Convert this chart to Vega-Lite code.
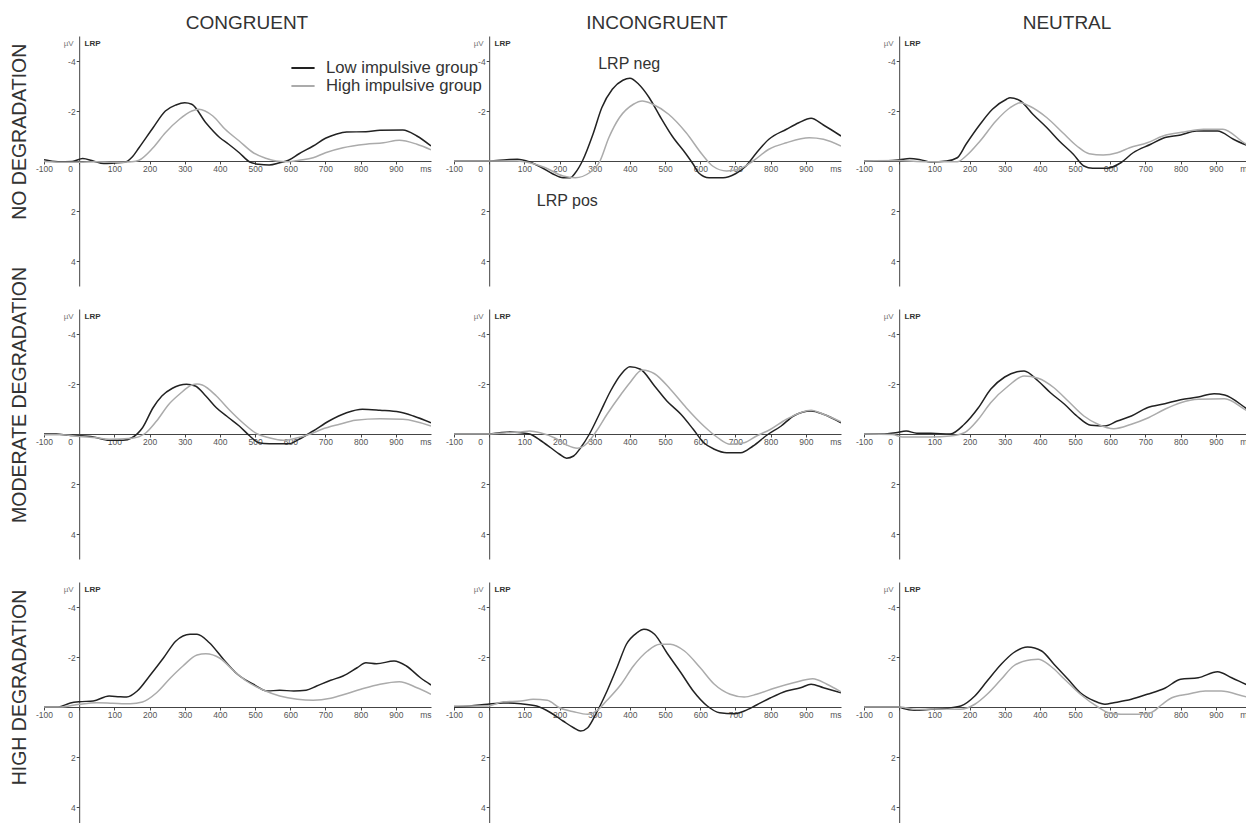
{
"$schema": "https://vega.github.io/schema/vega-lite/v6.json",
"background": "white",
"padding": {"left": 9, "top": 14, "right": 0, "bottom": 0},
"bounds": "flush",
"spacing": {"row": 23, "column": 23},
"data": {"values": [
{"r":"N","c":"C","g":"lo","t":-100,"v":-0.05},{"r":"N","c":"C","g":"lo","t":-60,"v":0.03},{"r":"N","c":"C","g":"lo","t":-20,"v":0.02},{"r":"N","c":"C","g":"lo","t":10,"v":-0.1},{"r":"N","c":"C","g":"lo","t":40,"v":0},{"r":"N","c":"C","g":"lo","t":70,"v":0.1},{"r":"N","c":"C","g":"lo","t":100,"v":0.08},{"r":"N","c":"C","g":"lo","t":130,"v":0.05},{"r":"N","c":"C","g":"lo","t":150,"v":-0.15},{"r":"N","c":"C","g":"lo","t":170,"v":-0.53},{"r":"N","c":"C","g":"lo","t":210,"v":-1.33},{"r":"N","c":"C","g":"lo","t":245,"v":-2.0},{"r":"N","c":"C","g":"lo","t":275,"v":-2.24},{"r":"N","c":"C","g":"lo","t":300,"v":-2.33},{"r":"N","c":"C","g":"lo","t":320,"v":-2.27},{"r":"N","c":"C","g":"lo","t":360,"v":-1.53},{"r":"N","c":"C","g":"lo","t":400,"v":-0.93},{"r":"N","c":"C","g":"lo","t":425,"v":-0.67},{"r":"N","c":"C","g":"lo","t":455,"v":-0.33},{"r":"N","c":"C","g":"lo","t":485,"v":0.04},{"r":"N","c":"C","g":"lo","t":510,"v":0.13},{"r":"N","c":"C","g":"lo","t":540,"v":0.16},{"r":"N","c":"C","g":"lo","t":570,"v":0.07},{"r":"N","c":"C","g":"lo","t":595,"v":-0.03},{"r":"N","c":"C","g":"lo","t":625,"v":-0.29},{"r":"N","c":"C","g":"lo","t":665,"v":-0.6},{"r":"N","c":"C","g":"lo","t":700,"v":-0.91},{"r":"N","c":"C","g":"lo","t":730,"v":-1.07},{"r":"N","c":"C","g":"lo","t":760,"v":-1.16},{"r":"N","c":"C","g":"lo","t":815,"v":-1.17},{"r":"N","c":"C","g":"lo","t":855,"v":-1.23},{"r":"N","c":"C","g":"lo","t":920,"v":-1.24},{"r":"N","c":"C","g":"lo","t":960,"v":-1.0},{"r":"N","c":"C","g":"lo","t":1000,"v":-0.6},
{"r":"N","c":"C","g":"hi","t":-100,"v":0.02},{"r":"N","c":"C","g":"hi","t":-50,"v":0.05},{"r":"N","c":"C","g":"hi","t":0,"v":0.05},{"r":"N","c":"C","g":"hi","t":50,"v":0.03},{"r":"N","c":"C","g":"hi","t":100,"v":0.05},{"r":"N","c":"C","g":"hi","t":150,"v":0.03},{"r":"N","c":"C","g":"hi","t":170,"v":-0.03},{"r":"N","c":"C","g":"hi","t":210,"v":-0.53},{"r":"N","c":"C","g":"hi","t":245,"v":-1.13},{"r":"N","c":"C","g":"hi","t":285,"v":-1.67},{"r":"N","c":"C","g":"hi","t":320,"v":-2.0},{"r":"N","c":"C","g":"hi","t":340,"v":-2.07},{"r":"N","c":"C","g":"hi","t":380,"v":-1.8},{"r":"N","c":"C","g":"hi","t":415,"v":-1.27},{"r":"N","c":"C","g":"hi","t":455,"v":-0.8},{"r":"N","c":"C","g":"hi","t":495,"v":-0.33},{"r":"N","c":"C","g":"hi","t":530,"v":-0.11},{"r":"N","c":"C","g":"hi","t":560,"v":0.0},{"r":"N","c":"C","g":"hi","t":595,"v":0.03},{"r":"N","c":"C","g":"hi","t":625,"v":-0.03},{"r":"N","c":"C","g":"hi","t":665,"v":-0.13},{"r":"N","c":"C","g":"hi","t":700,"v":-0.33},{"r":"N","c":"C","g":"hi","t":750,"v":-0.53},{"r":"N","c":"C","g":"hi","t":815,"v":-0.67},{"r":"N","c":"C","g":"hi","t":865,"v":-0.73},{"r":"N","c":"C","g":"hi","t":910,"v":-0.83},{"r":"N","c":"C","g":"hi","t":960,"v":-0.67},{"r":"N","c":"C","g":"hi","t":1000,"v":-0.45},
{"r":"N","c":"I","g":"lo","t":-100,"v":0},{"r":"N","c":"I","g":"lo","t":-50,"v":0},{"r":"N","c":"I","g":"lo","t":0,"v":0},{"r":"N","c":"I","g":"lo","t":50,"v":-0.05},{"r":"N","c":"I","g":"lo","t":80,"v":-0.07},{"r":"N","c":"I","g":"lo","t":115,"v":0.04},{"r":"N","c":"I","g":"lo","t":150,"v":0.27},{"r":"N","c":"I","g":"lo","t":180,"v":0.51},{"r":"N","c":"I","g":"lo","t":210,"v":0.67},{"r":"N","c":"I","g":"lo","t":230,"v":0.67},{"r":"N","c":"I","g":"lo","t":245,"v":0.47},{"r":"N","c":"I","g":"lo","t":265,"v":0.0},{"r":"N","c":"I","g":"lo","t":295,"v":-1.07},{"r":"N","c":"I","g":"lo","t":320,"v":-2.13},{"r":"N","c":"I","g":"lo","t":350,"v":-2.87},{"r":"N","c":"I","g":"lo","t":380,"v":-3.23},{"r":"N","c":"I","g":"lo","t":400,"v":-3.31},{"r":"N","c":"I","g":"lo","t":425,"v":-3.07},{"r":"N","c":"I","g":"lo","t":455,"v":-2.53},{"r":"N","c":"I","g":"lo","t":485,"v":-1.8},{"r":"N","c":"I","g":"lo","t":520,"v":-1.0},{"r":"N","c":"I","g":"lo","t":560,"v":-0.27},{"r":"N","c":"I","g":"lo","t":580,"v":0.13},{"r":"N","c":"I","g":"lo","t":595,"v":0.47},{"r":"N","c":"I","g":"lo","t":625,"v":0.67},{"r":"N","c":"I","g":"lo","t":665,"v":0.67},{"r":"N","c":"I","g":"lo","t":700,"v":0.51},{"r":"N","c":"I","g":"lo","t":730,"v":0.2},{"r":"N","c":"I","g":"lo","t":760,"v":-0.33},{"r":"N","c":"I","g":"lo","t":795,"v":-0.87},{"r":"N","c":"I","g":"lo","t":845,"v":-1.27},{"r":"N","c":"I","g":"lo","t":880,"v":-1.53},{"r":"N","c":"I","g":"lo","t":915,"v":-1.71},{"r":"N","c":"I","g":"lo","t":950,"v":-1.44},{"r":"N","c":"I","g":"lo","t":1000,"v":-1.0},
{"r":"N","c":"I","g":"hi","t":-100,"v":0},{"r":"N","c":"I","g":"hi","t":0,"v":0},{"r":"N","c":"I","g":"hi","t":80,"v":0.0},{"r":"N","c":"I","g":"hi","t":115,"v":0.07},{"r":"N","c":"I","g":"hi","t":160,"v":0.27},{"r":"N","c":"I","g":"hi","t":210,"v":0.6},{"r":"N","c":"I","g":"hi","t":245,"v":0.67},{"r":"N","c":"I","g":"hi","t":285,"v":0.47},{"r":"N","c":"I","g":"hi","t":315,"v":0.0},{"r":"N","c":"I","g":"hi","t":340,"v":-0.93},{"r":"N","c":"I","g":"hi","t":370,"v":-1.73},{"r":"N","c":"I","g":"hi","t":410,"v":-2.27},{"r":"N","c":"I","g":"hi","t":435,"v":-2.4},{"r":"N","c":"I","g":"hi","t":465,"v":-2.27},{"r":"N","c":"I","g":"hi","t":510,"v":-1.87},{"r":"N","c":"I","g":"hi","t":560,"v":-1.13},{"r":"N","c":"I","g":"hi","t":605,"v":-0.27},{"r":"N","c":"I","g":"hi","t":635,"v":0.2},{"r":"N","c":"I","g":"hi","t":675,"v":0.4},{"r":"N","c":"I","g":"hi","t":710,"v":0.33},{"r":"N","c":"I","g":"hi","t":750,"v":0.0},{"r":"N","c":"I","g":"hi","t":795,"v":-0.47},{"r":"N","c":"I","g":"hi","t":845,"v":-0.73},{"r":"N","c":"I","g":"hi","t":910,"v":-0.93},{"r":"N","c":"I","g":"hi","t":950,"v":-0.87},{"r":"N","c":"I","g":"hi","t":1000,"v":-0.6},
{"r":"N","c":"U","g":"lo","t":-100,"v":0.0},{"r":"N","c":"U","g":"lo","t":-50,"v":0.0},{"r":"N","c":"U","g":"lo","t":0,"v":-0.05},{"r":"N","c":"U","g":"lo","t":30,"v":-0.1},{"r":"N","c":"U","g":"lo","t":60,"v":-0.05},{"r":"N","c":"U","g":"lo","t":90,"v":0.04},{"r":"N","c":"U","g":"lo","t":135,"v":0.0},{"r":"N","c":"U","g":"lo","t":165,"v":-0.13},{"r":"N","c":"U","g":"lo","t":190,"v":-0.67},{"r":"N","c":"U","g":"lo","t":230,"v":-1.47},{"r":"N","c":"U","g":"lo","t":265,"v":-2.07},{"r":"N","c":"U","g":"lo","t":305,"v":-2.47},{"r":"N","c":"U","g":"lo","t":315,"v":-2.53},{"r":"N","c":"U","g":"lo","t":345,"v":-2.4},{"r":"N","c":"U","g":"lo","t":380,"v":-1.87},{"r":"N","c":"U","g":"lo","t":420,"v":-1.33},{"r":"N","c":"U","g":"lo","t":455,"v":-0.8},{"r":"N","c":"U","g":"lo","t":495,"v":-0.27},{"r":"N","c":"U","g":"lo","t":525,"v":0.2},{"r":"N","c":"U","g":"lo","t":550,"v":0.29},{"r":"N","c":"U","g":"lo","t":590,"v":0.29},{"r":"N","c":"U","g":"lo","t":630,"v":0.07},{"r":"N","c":"U","g":"lo","t":665,"v":-0.33},{"r":"N","c":"U","g":"lo","t":715,"v":-0.67},{"r":"N","c":"U","g":"lo","t":750,"v":-0.91},{"r":"N","c":"U","g":"lo","t":800,"v":-1.04},{"r":"N","c":"U","g":"lo","t":845,"v":-1.2},{"r":"N","c":"U","g":"lo","t":905,"v":-1.2},{"r":"N","c":"U","g":"lo","t":950,"v":-0.87},{"r":"N","c":"U","g":"lo","t":1000,"v":-0.55},
{"r":"N","c":"U","g":"hi","t":-100,"v":0.0},{"r":"N","c":"U","g":"hi","t":0,"v":-0.02},{"r":"N","c":"U","g":"hi","t":50,"v":0.02},{"r":"N","c":"U","g":"hi","t":100,"v":0.03},{"r":"N","c":"U","g":"hi","t":165,"v":0.03},{"r":"N","c":"U","g":"hi","t":190,"v":-0.2},{"r":"N","c":"U","g":"hi","t":230,"v":-0.8},{"r":"N","c":"U","g":"hi","t":275,"v":-1.6},{"r":"N","c":"U","g":"hi","t":315,"v":-2.13},{"r":"N","c":"U","g":"hi","t":345,"v":-2.33},{"r":"N","c":"U","g":"hi","t":370,"v":-2.2},{"r":"N","c":"U","g":"hi","t":420,"v":-1.73},{"r":"N","c":"U","g":"hi","t":465,"v":-1.13},{"r":"N","c":"U","g":"hi","t":505,"v":-0.6},{"r":"N","c":"U","g":"hi","t":540,"v":-0.29},{"r":"N","c":"U","g":"hi","t":580,"v":-0.24},{"r":"N","c":"U","g":"hi","t":620,"v":-0.33},{"r":"N","c":"U","g":"hi","t":655,"v":-0.53},{"r":"N","c":"U","g":"hi","t":705,"v":-0.73},{"r":"N","c":"U","g":"hi","t":750,"v":-1.0},{"r":"N","c":"U","g":"hi","t":810,"v":-1.16},{"r":"N","c":"U","g":"hi","t":865,"v":-1.27},{"r":"N","c":"U","g":"hi","t":920,"v":-1.27},{"r":"N","c":"U","g":"hi","t":985,"v":-0.69},{"r":"N","c":"U","g":"hi","t":1000,"v":-0.6},
{"r":"M","c":"C","g":"lo","t":-100,"v":0.0},{"r":"M","c":"C","g":"lo","t":-65,"v":0.0},{"r":"M","c":"C","g":"lo","t":-30,"v":0.05},{"r":"M","c":"C","g":"lo","t":0,"v":0.07},{"r":"M","c":"C","g":"lo","t":40,"v":0.12},{"r":"M","c":"C","g":"lo","t":85,"v":0.25},{"r":"M","c":"C","g":"lo","t":125,"v":0.25},{"r":"M","c":"C","g":"lo","t":150,"v":0.15},{"r":"M","c":"C","g":"lo","t":180,"v":-0.25},{"r":"M","c":"C","g":"lo","t":210,"v":-1.05},{"r":"M","c":"C","g":"lo","t":235,"v":-1.52},{"r":"M","c":"C","g":"lo","t":265,"v":-1.83},{"r":"M","c":"C","g":"lo","t":305,"v":-1.99},{"r":"M","c":"C","g":"lo","t":330,"v":-1.92},{"r":"M","c":"C","g":"lo","t":360,"v":-1.52},{"r":"M","c":"C","g":"lo","t":390,"v":-1.05},{"r":"M","c":"C","g":"lo","t":425,"v":-0.65},{"r":"M","c":"C","g":"lo","t":455,"v":-0.32},{"r":"M","c":"C","g":"lo","t":485,"v":0.08},{"r":"M","c":"C","g":"lo","t":510,"v":0.35},{"r":"M","c":"C","g":"lo","t":540,"v":0.39},{"r":"M","c":"C","g":"lo","t":595,"v":0.39},{"r":"M","c":"C","g":"lo","t":625,"v":0.21},{"r":"M","c":"C","g":"lo","t":665,"v":-0.12},{"r":"M","c":"C","g":"lo","t":710,"v":-0.52},{"r":"M","c":"C","g":"lo","t":760,"v":-0.85},{"r":"M","c":"C","g":"lo","t":805,"v":-0.99},{"r":"M","c":"C","g":"lo","t":855,"v":-0.95},{"r":"M","c":"C","g":"lo","t":910,"v":-0.88},{"r":"M","c":"C","g":"lo","t":950,"v":-0.72},{"r":"M","c":"C","g":"lo","t":1000,"v":-0.45},
{"r":"M","c":"C","g":"hi","t":-100,"v":0.03},{"r":"M","c":"C","g":"hi","t":-50,"v":0.03},{"r":"M","c":"C","g":"hi","t":0,"v":0.1},{"r":"M","c":"C","g":"hi","t":50,"v":0.15},{"r":"M","c":"C","g":"hi","t":85,"v":0.21},{"r":"M","c":"C","g":"hi","t":150,"v":0.17},{"r":"M","c":"C","g":"hi","t":190,"v":-0.05},{"r":"M","c":"C","g":"hi","t":220,"v":-0.52},{"r":"M","c":"C","g":"hi","t":255,"v":-1.19},{"r":"M","c":"C","g":"hi","t":285,"v":-1.59},{"r":"M","c":"C","g":"hi","t":320,"v":-1.96},{"r":"M","c":"C","g":"hi","t":335,"v":-2.0},{"r":"M","c":"C","g":"hi","t":350,"v":-1.96},{"r":"M","c":"C","g":"hi","t":390,"v":-1.52},{"r":"M","c":"C","g":"hi","t":425,"v":-0.99},{"r":"M","c":"C","g":"hi","t":465,"v":-0.45},{"r":"M","c":"C","g":"hi","t":505,"v":-0.01},{"r":"M","c":"C","g":"hi","t":540,"v":0.15},{"r":"M","c":"C","g":"hi","t":580,"v":0.25},{"r":"M","c":"C","g":"hi","t":615,"v":0.17},{"r":"M","c":"C","g":"hi","t":655,"v":0.01},{"r":"M","c":"C","g":"hi","t":690,"v":-0.19},{"r":"M","c":"C","g":"hi","t":740,"v":-0.39},{"r":"M","c":"C","g":"hi","t":785,"v":-0.55},{"r":"M","c":"C","g":"hi","t":855,"v":-0.61},{"r":"M","c":"C","g":"hi","t":920,"v":-0.59},{"r":"M","c":"C","g":"hi","t":1000,"v":-0.32},
{"r":"M","c":"I","g":"lo","t":-100,"v":0},{"r":"M","c":"I","g":"lo","t":-50,"v":0},{"r":"M","c":"I","g":"lo","t":0,"v":0},{"r":"M","c":"I","g":"lo","t":30,"v":-0.05},{"r":"M","c":"I","g":"lo","t":60,"v":-0.08},{"r":"M","c":"I","g":"lo","t":90,"v":-0.05},{"r":"M","c":"I","g":"lo","t":115,"v":0.0},{"r":"M","c":"I","g":"lo","t":145,"v":0.25},{"r":"M","c":"I","g":"lo","t":175,"v":0.55},{"r":"M","c":"I","g":"lo","t":200,"v":0.81},{"r":"M","c":"I","g":"lo","t":220,"v":0.97},{"r":"M","c":"I","g":"lo","t":240,"v":0.88},{"r":"M","c":"I","g":"lo","t":260,"v":0.55},{"r":"M","c":"I","g":"lo","t":285,"v":0.0},{"r":"M","c":"I","g":"lo","t":315,"v":-0.85},{"r":"M","c":"I","g":"lo","t":345,"v":-1.72},{"r":"M","c":"I","g":"lo","t":375,"v":-2.39},{"r":"M","c":"I","g":"lo","t":400,"v":-2.69},{"r":"M","c":"I","g":"lo","t":430,"v":-2.59},{"r":"M","c":"I","g":"lo","t":470,"v":-1.92},{"r":"M","c":"I","g":"lo","t":505,"v":-1.32},{"r":"M","c":"I","g":"lo","t":545,"v":-0.79},{"r":"M","c":"I","g":"lo","t":580,"v":-0.19},{"r":"M","c":"I","g":"lo","t":610,"v":0.35},{"r":"M","c":"I","g":"lo","t":640,"v":0.61},{"r":"M","c":"I","g":"lo","t":675,"v":0.75},{"r":"M","c":"I","g":"lo","t":715,"v":0.75},{"r":"M","c":"I","g":"lo","t":750,"v":0.48},{"r":"M","c":"I","g":"lo","t":790,"v":0.04},{"r":"M","c":"I","g":"lo","t":830,"v":-0.32},{"r":"M","c":"I","g":"lo","t":865,"v":-0.72},{"r":"M","c":"I","g":"lo","t":915,"v":-0.92},{"r":"M","c":"I","g":"lo","t":950,"v":-0.79},{"r":"M","c":"I","g":"lo","t":1000,"v":-0.45},
{"r":"M","c":"I","g":"hi","t":-100,"v":0},{"r":"M","c":"I","g":"hi","t":0,"v":0},{"r":"M","c":"I","g":"hi","t":50,"v":-0.05},{"r":"M","c":"I","g":"hi","t":90,"v":-0.08},{"r":"M","c":"I","g":"hi","t":115,"v":-0.12},{"r":"M","c":"I","g":"hi","t":145,"v":-0.05},{"r":"M","c":"I","g":"hi","t":185,"v":0.15},{"r":"M","c":"I","g":"hi","t":220,"v":0.44},{"r":"M","c":"I","g":"hi","t":250,"v":0.57},{"r":"M","c":"I","g":"hi","t":280,"v":0.35},{"r":"M","c":"I","g":"hi","t":305,"v":-0.12},{"r":"M","c":"I","g":"hi","t":335,"v":-0.79},{"r":"M","c":"I","g":"hi","t":375,"v":-1.59},{"r":"M","c":"I","g":"hi","t":400,"v":-2.05},{"r":"M","c":"I","g":"hi","t":435,"v":-2.56},{"r":"M","c":"I","g":"hi","t":470,"v":-2.41},{"r":"M","c":"I","g":"hi","t":515,"v":-1.79},{"r":"M","c":"I","g":"hi","t":560,"v":-1.05},{"r":"M","c":"I","g":"hi","t":610,"v":-0.32},{"r":"M","c":"I","g":"hi","t":650,"v":0.15},{"r":"M","c":"I","g":"hi","t":685,"v":0.41},{"r":"M","c":"I","g":"hi","t":725,"v":0.35},{"r":"M","c":"I","g":"hi","t":760,"v":0.08},{"r":"M","c":"I","g":"hi","t":800,"v":-0.19},{"r":"M","c":"I","g":"hi","t":845,"v":-0.59},{"r":"M","c":"I","g":"hi","t":915,"v":-0.95},{"r":"M","c":"I","g":"hi","t":950,"v":-0.79},{"r":"M","c":"I","g":"hi","t":1000,"v":-0.49},
{"r":"M","c":"U","g":"lo","t":-100,"v":0},{"r":"M","c":"U","g":"lo","t":-50,"v":0},{"r":"M","c":"U","g":"lo","t":-10,"v":-0.05},{"r":"M","c":"U","g":"lo","t":20,"v":-0.12},{"r":"M","c":"U","g":"lo","t":50,"v":-0.03},{"r":"M","c":"U","g":"lo","t":90,"v":-0.03},{"r":"M","c":"U","g":"lo","t":145,"v":0.0},{"r":"M","c":"U","g":"lo","t":185,"v":-0.39},{"r":"M","c":"U","g":"lo","t":225,"v":-1.05},{"r":"M","c":"U","g":"lo","t":260,"v":-1.79},{"r":"M","c":"U","g":"lo","t":300,"v":-2.28},{"r":"M","c":"U","g":"lo","t":335,"v":-2.49},{"r":"M","c":"U","g":"lo","t":355,"v":-2.52},{"r":"M","c":"U","g":"lo","t":395,"v":-2.12},{"r":"M","c":"U","g":"lo","t":430,"v":-1.65},{"r":"M","c":"U","g":"lo","t":470,"v":-1.19},{"r":"M","c":"U","g":"lo","t":505,"v":-0.72},{"r":"M","c":"U","g":"lo","t":545,"v":-0.35},{"r":"M","c":"U","g":"lo","t":585,"v":-0.32},{"r":"M","c":"U","g":"lo","t":620,"v":-0.52},{"r":"M","c":"U","g":"lo","t":660,"v":-0.72},{"r":"M","c":"U","g":"lo","t":705,"v":-1.05},{"r":"M","c":"U","g":"lo","t":755,"v":-1.21},{"r":"M","c":"U","g":"lo","t":800,"v":-1.37},{"r":"M","c":"U","g":"lo","t":850,"v":-1.48},{"r":"M","c":"U","g":"lo","t":895,"v":-1.61},{"r":"M","c":"U","g":"lo","t":925,"v":-1.56},{"r":"M","c":"U","g":"lo","t":990,"v":-0.99},{"r":"M","c":"U","g":"lo","t":1000,"v":-0.9},
{"r":"M","c":"U","g":"hi","t":-100,"v":0},{"r":"M","c":"U","g":"hi","t":-20,"v":0.02},{"r":"M","c":"U","g":"hi","t":10,"v":0.12},{"r":"M","c":"U","g":"hi","t":50,"v":0.12},{"r":"M","c":"U","g":"hi","t":90,"v":0.12},{"r":"M","c":"U","g":"hi","t":145,"v":0.08},{"r":"M","c":"U","g":"hi","t":185,"v":-0.05},{"r":"M","c":"U","g":"hi","t":225,"v":-0.59},{"r":"M","c":"U","g":"hi","t":260,"v":-1.25},{"r":"M","c":"U","g":"hi","t":310,"v":-1.92},{"r":"M","c":"U","g":"hi","t":355,"v":-2.32},{"r":"M","c":"U","g":"hi","t":395,"v":-2.23},{"r":"M","c":"U","g":"hi","t":440,"v":-1.85},{"r":"M","c":"U","g":"hi","t":480,"v":-1.32},{"r":"M","c":"U","g":"hi","t":525,"v":-0.72},{"r":"M","c":"U","g":"hi","t":565,"v":-0.39},{"r":"M","c":"U","g":"hi","t":610,"v":-0.21},{"r":"M","c":"U","g":"hi","t":660,"v":-0.39},{"r":"M","c":"U","g":"hi","t":705,"v":-0.63},{"r":"M","c":"U","g":"hi","t":755,"v":-0.99},{"r":"M","c":"U","g":"hi","t":800,"v":-1.25},{"r":"M","c":"U","g":"hi","t":850,"v":-1.39},{"r":"M","c":"U","g":"hi","t":925,"v":-1.41},{"r":"M","c":"U","g":"hi","t":990,"v":-0.92},{"r":"M","c":"U","g":"hi","t":1000,"v":-0.85},
{"r":"H","c":"C","g":"lo","t":-100,"v":0},{"r":"H","c":"C","g":"lo","t":-60,"v":0},{"r":"H","c":"C","g":"lo","t":-25,"v":-0.16},{"r":"H","c":"C","g":"lo","t":0,"v":-0.21},{"r":"H","c":"C","g":"lo","t":40,"v":-0.24},{"r":"H","c":"C","g":"lo","t":85,"v":-0.44},{"r":"H","c":"C","g":"lo","t":115,"v":-0.41},{"r":"H","c":"C","g":"lo","t":135,"v":-0.4},{"r":"H","c":"C","g":"lo","t":165,"v":-0.64},{"r":"H","c":"C","g":"lo","t":200,"v":-1.24},{"r":"H","c":"C","g":"lo","t":240,"v":-1.97},{"r":"H","c":"C","g":"lo","t":275,"v":-2.64},{"r":"H","c":"C","g":"lo","t":315,"v":-2.91},{"r":"H","c":"C","g":"lo","t":335,"v":-2.91},{"r":"H","c":"C","g":"lo","t":370,"v":-2.57},{"r":"H","c":"C","g":"lo","t":410,"v":-1.91},{"r":"H","c":"C","g":"lo","t":450,"v":-1.31},{"r":"H","c":"C","g":"lo","t":495,"v":-0.91},{"r":"H","c":"C","g":"lo","t":535,"v":-0.64},{"r":"H","c":"C","g":"lo","t":570,"v":-0.67},{"r":"H","c":"C","g":"lo","t":610,"v":-0.64},{"r":"H","c":"C","g":"lo","t":645,"v":-0.67},{"r":"H","c":"C","g":"lo","t":675,"v":-0.84},{"r":"H","c":"C","g":"lo","t":715,"v":-1.07},{"r":"H","c":"C","g":"lo","t":750,"v":-1.24},{"r":"H","c":"C","g":"lo","t":790,"v":-1.57},{"r":"H","c":"C","g":"lo","t":815,"v":-1.77},{"r":"H","c":"C","g":"lo","t":845,"v":-1.73},{"r":"H","c":"C","g":"lo","t":895,"v":-1.84},{"r":"H","c":"C","g":"lo","t":930,"v":-1.64},{"r":"H","c":"C","g":"lo","t":970,"v":-1.17},{"r":"H","c":"C","g":"lo","t":1000,"v":-0.88},
{"r":"H","c":"C","g":"hi","t":-100,"v":0},{"r":"H","c":"C","g":"hi","t":-55,"v":0},{"r":"H","c":"C","g":"hi","t":0,"v":-0.11},{"r":"H","c":"C","g":"hi","t":50,"v":-0.17},{"r":"H","c":"C","g":"hi","t":95,"v":-0.15},{"r":"H","c":"C","g":"hi","t":145,"v":-0.13},{"r":"H","c":"C","g":"hi","t":180,"v":-0.2},{"r":"H","c":"C","g":"hi","t":220,"v":-0.57},{"r":"H","c":"C","g":"hi","t":260,"v":-1.17},{"r":"H","c":"C","g":"hi","t":295,"v":-1.64},{"r":"H","c":"C","g":"hi","t":335,"v":-2.08},{"r":"H","c":"C","g":"hi","t":360,"v":-2.13},{"r":"H","c":"C","g":"hi","t":400,"v":-1.95},{"r":"H","c":"C","g":"hi","t":440,"v":-1.44},{"r":"H","c":"C","g":"hi","t":475,"v":-1.04},{"r":"H","c":"C","g":"hi","t":525,"v":-0.67},{"r":"H","c":"C","g":"hi","t":570,"v":-0.44},{"r":"H","c":"C","g":"hi","t":620,"v":-0.31},{"r":"H","c":"C","g":"hi","t":665,"v":-0.27},{"r":"H","c":"C","g":"hi","t":715,"v":-0.35},{"r":"H","c":"C","g":"hi","t":760,"v":-0.53},{"r":"H","c":"C","g":"hi","t":810,"v":-0.75},{"r":"H","c":"C","g":"hi","t":855,"v":-0.91},{"r":"H","c":"C","g":"hi","t":910,"v":-1.01},{"r":"H","c":"C","g":"hi","t":960,"v":-0.77},{"r":"H","c":"C","g":"hi","t":1000,"v":-0.51},
{"r":"H","c":"I","g":"lo","t":-100,"v":0},{"r":"H","c":"I","g":"lo","t":-55,"v":-0.04},{"r":"H","c":"I","g":"lo","t":-5,"v":-0.11},{"r":"H","c":"I","g":"lo","t":40,"v":-0.16},{"r":"H","c":"I","g":"lo","t":90,"v":-0.13},{"r":"H","c":"I","g":"lo","t":135,"v":-0.04},{"r":"H","c":"I","g":"lo","t":175,"v":0.23},{"r":"H","c":"I","g":"lo","t":210,"v":0.56},{"r":"H","c":"I","g":"lo","t":240,"v":0.83},{"r":"H","c":"I","g":"lo","t":260,"v":0.96},{"r":"H","c":"I","g":"lo","t":280,"v":0.83},{"r":"H","c":"I","g":"lo","t":305,"v":0.23},{"r":"H","c":"I","g":"lo","t":335,"v":-0.64},{"r":"H","c":"I","g":"lo","t":365,"v":-1.64},{"r":"H","c":"I","g":"lo","t":390,"v":-2.51},{"r":"H","c":"I","g":"lo","t":420,"v":-2.97},{"r":"H","c":"I","g":"lo","t":440,"v":-3.11},{"r":"H","c":"I","g":"lo","t":470,"v":-2.91},{"r":"H","c":"I","g":"lo","t":505,"v":-2.17},{"r":"H","c":"I","g":"lo","t":545,"v":-1.37},{"r":"H","c":"I","g":"lo","t":580,"v":-0.64},{"r":"H","c":"I","g":"lo","t":620,"v":-0.04},{"r":"H","c":"I","g":"lo","t":655,"v":0.23},{"r":"H","c":"I","g":"lo","t":695,"v":0.27},{"r":"H","c":"I","g":"lo","t":725,"v":0.16},{"r":"H","c":"I","g":"lo","t":760,"v":-0.08},{"r":"H","c":"I","g":"lo","t":800,"v":-0.37},{"r":"H","c":"I","g":"lo","t":845,"v":-0.64},{"r":"H","c":"I","g":"lo","t":885,"v":-0.77},{"r":"H","c":"I","g":"lo","t":915,"v":-0.91},{"r":"H","c":"I","g":"lo","t":950,"v":-0.77},{"r":"H","c":"I","g":"lo","t":1000,"v":-0.57},
{"r":"H","c":"I","g":"hi","t":-100,"v":-0.04},{"r":"H","c":"I","g":"hi","t":-5,"v":-0.04},{"r":"H","c":"I","g":"hi","t":40,"v":-0.21},{"r":"H","c":"I","g":"hi","t":90,"v":-0.24},{"r":"H","c":"I","g":"hi","t":125,"v":-0.31},{"r":"H","c":"I","g":"hi","t":165,"v":-0.27},{"r":"H","c":"I","g":"hi","t":200,"v":0.03},{"r":"H","c":"I","g":"hi","t":240,"v":0.19},{"r":"H","c":"I","g":"hi","t":280,"v":0.29},{"r":"H","c":"I","g":"hi","t":305,"v":0.16},{"r":"H","c":"I","g":"hi","t":335,"v":-0.27},{"r":"H","c":"I","g":"hi","t":375,"v":-0.91},{"r":"H","c":"I","g":"hi","t":410,"v":-1.64},{"r":"H","c":"I","g":"hi","t":450,"v":-2.24},{"r":"H","c":"I","g":"hi","t":485,"v":-2.51},{"r":"H","c":"I","g":"hi","t":515,"v":-2.51},{"r":"H","c":"I","g":"hi","t":555,"v":-2.24},{"r":"H","c":"I","g":"hi","t":600,"v":-1.57},{"r":"H","c":"I","g":"hi","t":640,"v":-0.91},{"r":"H","c":"I","g":"hi","t":685,"v":-0.51},{"r":"H","c":"I","g":"hi","t":725,"v":-0.4},{"r":"H","c":"I","g":"hi","t":760,"v":-0.51},{"r":"H","c":"I","g":"hi","t":810,"v":-0.75},{"r":"H","c":"I","g":"hi","t":865,"v":-0.97},{"r":"H","c":"I","g":"hi","t":920,"v":-1.13},{"r":"H","c":"I","g":"hi","t":960,"v":-0.91},{"r":"H","c":"I","g":"hi","t":1000,"v":-0.61},
{"r":"H","c":"U","g":"lo","t":-100,"v":0},{"r":"H","c":"U","g":"lo","t":-50,"v":0},{"r":"H","c":"U","g":"lo","t":0,"v":0.0},{"r":"H","c":"U","g":"lo","t":10,"v":0.05},{"r":"H","c":"U","g":"lo","t":45,"v":0.13},{"r":"H","c":"U","g":"lo","t":90,"v":0.09},{"r":"H","c":"U","g":"lo","t":135,"v":0.05},{"r":"H","c":"U","g":"lo","t":175,"v":-0.04},{"r":"H","c":"U","g":"lo","t":215,"v":-0.44},{"r":"H","c":"U","g":"lo","t":250,"v":-1.04},{"r":"H","c":"U","g":"lo","t":290,"v":-1.71},{"r":"H","c":"U","g":"lo","t":325,"v":-2.17},{"r":"H","c":"U","g":"lo","t":365,"v":-2.4},{"r":"H","c":"U","g":"lo","t":405,"v":-2.24},{"r":"H","c":"U","g":"lo","t":440,"v":-1.71},{"r":"H","c":"U","g":"lo","t":480,"v":-1.11},{"r":"H","c":"U","g":"lo","t":515,"v":-0.57},{"r":"H","c":"U","g":"lo","t":555,"v":-0.24},{"r":"H","c":"U","g":"lo","t":585,"v":-0.11},{"r":"H","c":"U","g":"lo","t":610,"v":-0.17},{"r":"H","c":"U","g":"lo","t":660,"v":-0.31},{"r":"H","c":"U","g":"lo","t":705,"v":-0.51},{"r":"H","c":"U","g":"lo","t":755,"v":-0.75},{"r":"H","c":"U","g":"lo","t":800,"v":-1.11},{"r":"H","c":"U","g":"lo","t":850,"v":-1.17},{"r":"H","c":"U","g":"lo","t":905,"v":-1.41},{"r":"H","c":"U","g":"lo","t":945,"v":-1.17},{"r":"H","c":"U","g":"lo","t":990,"v":-0.88},{"r":"H","c":"U","g":"lo","t":1000,"v":-0.82},
{"r":"H","c":"U","g":"hi","t":-100,"v":0},{"r":"H","c":"U","g":"hi","t":0,"v":0.0},{"r":"H","c":"U","g":"hi","t":50,"v":0.1},{"r":"H","c":"U","g":"hi","t":100,"v":0.08},{"r":"H","c":"U","g":"hi","t":175,"v":0.09},{"r":"H","c":"U","g":"hi","t":215,"v":-0.11},{"r":"H","c":"U","g":"hi","t":250,"v":-0.51},{"r":"H","c":"U","g":"hi","t":290,"v":-1.11},{"r":"H","c":"U","g":"hi","t":325,"v":-1.64},{"r":"H","c":"U","g":"hi","t":375,"v":-1.89},{"r":"H","c":"U","g":"hi","t":395,"v":-1.91},{"r":"H","c":"U","g":"hi","t":430,"v":-1.64},{"r":"H","c":"U","g":"hi","t":470,"v":-1.11},{"r":"H","c":"U","g":"hi","t":515,"v":-0.51},{"r":"H","c":"U","g":"hi","t":565,"v":0.0},{"r":"H","c":"U","g":"hi","t":595,"v":0.23},{"r":"H","c":"U","g":"hi","t":630,"v":0.29},{"r":"H","c":"U","g":"hi","t":680,"v":0.29},{"r":"H","c":"U","g":"hi","t":715,"v":0.23},{"r":"H","c":"U","g":"hi","t":745,"v":-0.08},{"r":"H","c":"U","g":"hi","t":775,"v":-0.37},{"r":"H","c":"U","g":"hi","t":820,"v":-0.51},{"r":"H","c":"U","g":"hi","t":870,"v":-0.64},{"r":"H","c":"U","g":"hi","t":915,"v":-0.64},{"r":"H","c":"U","g":"hi","t":990,"v":-0.4},{"r":"H","c":"U","g":"hi","t":1000,"v":-0.38},
{"r":"N","c":"I","t":398,"v":-3.9,"note":"LRP neg"},
{"r":"N","c":"I","t":222,"v":1.6,"note":"LRP pos"}
]},
"facet": {
  "row": {"field": "r", "type": "nominal", "sort": ["N","M","H"], "title": null,
    "header": {"labelExpr": "datum.value == 'N' ? '\u200b\u2003\u2003\u2003NO DEGRADATION\u200b' : datum.value == 'M' ? '\u200b\u2003\u2003\u2003\u2003MODERATE DEGRADATION\u200b' : '\u200b\u2003\u2003HIGH DEGRADATION\u200b'", "labelAngle": -90, "labelFontSize": 19.5, "labelFont": "Liberation Sans", "labelColor": "#333", "labelPadding": 5}},
  "column": {"field": "c", "type": "nominal", "sort": ["C","I","U"], "title": null,
    "header": {"labelExpr": "datum.value == 'C' ? '\u200b\u2003CONGRUENT' : datum.value == 'I' ? '\u200b\u2003INCONGRUENT' : '\u200b\u2003NEUTRAL'", "labelFontSize": 19, "labelFont": "Liberation Sans", "labelColor": "#333", "labelPadding": 3}}
},
"spec": {
  "width": 387,
  "height": 250,
  "encoding": {
    "x": {"field": "t", "type": "quantitative", "scale": {"domain": [-100, 1000], "nice": false, "zero": false},
      "axis": {"values": [-100,0,100,200,300,400,500,600,700,800,900,1000], "grid": false, "offset": -125,
        "labelExpr": "datum.value == 1000 ? 'ms' : datum.value < 0 ? '-' + abs(datum.value) : datum.label",
        "labelFont": "Liberation Sans", "labelFontSize": 8.5, "labelColor": "#555", "labelPadding": 0, "labelOverlap": false, "labelFlush": false,
        "labelAlign": {"condition": {"test": "datum.value == 1000", "value": "right"}, "value": "center"},
        "labelOffset": {"condition": {"test": "datum.value == 0", "value": -9}, "value": 0},
        "tickSize": 3, "tickColor": "#444", "tickOpacity": {"condition": {"test": "datum.value == 1000", "value": 0}, "value": 1},
        "domainColor": "#444", "domainWidth": 1,
        "title": "LRP", "titleX": 40, "titleY": -118, "titleAlign": "left", "titleBaseline": "middle", "titleFontSize": 8, "titleFontWeight": "bold", "titleColor": "#333", "titleFont": "Liberation Sans"}},
    "y": {"field": "v", "type": "quantitative", "scale": {"domain": [-5, 5], "reverse": true, "nice": false, "zero": false},
      "axis": {"values": [-4,-2,2,4], "grid": false, "offset": -35.18,
        "labelExpr": "datum.value < 0 ? '-' + abs(datum.value) : datum.label",
        "labelFont": "Liberation Sans", "labelFontSize": 8.5, "labelColor": "#555", "labelPadding": 1,
        "tickSize": 3, "tickColor": "#444", "domainColor": "#444", "domainWidth": 1,
        "title": "µV", "titleAngle": 0, "titleX": -6, "titleY": 7, "titleAlign": "right", "titleBaseline": "middle", "titleFontSize": 8, "titleFontWeight": "normal", "titleColor": "#777", "titleFont": "Liberation Sans"}}
  },
  "layer": [
    {"transform": [{"filter": "!isValid(datum.note)"}],
     "mark": {"type": "line", "interpolate": "monotone", "strokeWidth": 1.5, "clip": true},
     "encoding": {
       "color": {"field": "g", "type": "nominal", "scale": {"domain": ["lo","hi"], "range": ["#222222","#ababab"]},
         "legend": {"orient": "none", "legendX": 250, "legendY": 23, "title": null, "padding": 0, "rowPadding": -2,
           "labelExpr": "datum.value == 'lo' ? 'Low impulsive group' : 'High impulsive group'",
           "labelFont": "Liberation Sans", "labelFontSize": 16.7, "labelColor": "#333", "labelOffset": 14,
           "symbolType": "M-1.45,0H1.45", "symbolSize": 256, "symbolStrokeWidth": 2}}
     }},
    {"transform": [{"filter": "isValid(datum.note)"}],
     "mark": {"type": "text", "font": "Liberation Sans", "fontSize": 16, "color": "#333", "align": "center", "baseline": "middle"},
     "encoding": {"text": {"field": "note"}}}
  ]
},
"resolve": {"axis": {"x": "independent", "y": "independent"}},
"config": {"view": {"stroke": null}, "font": "Liberation Sans"}
}
